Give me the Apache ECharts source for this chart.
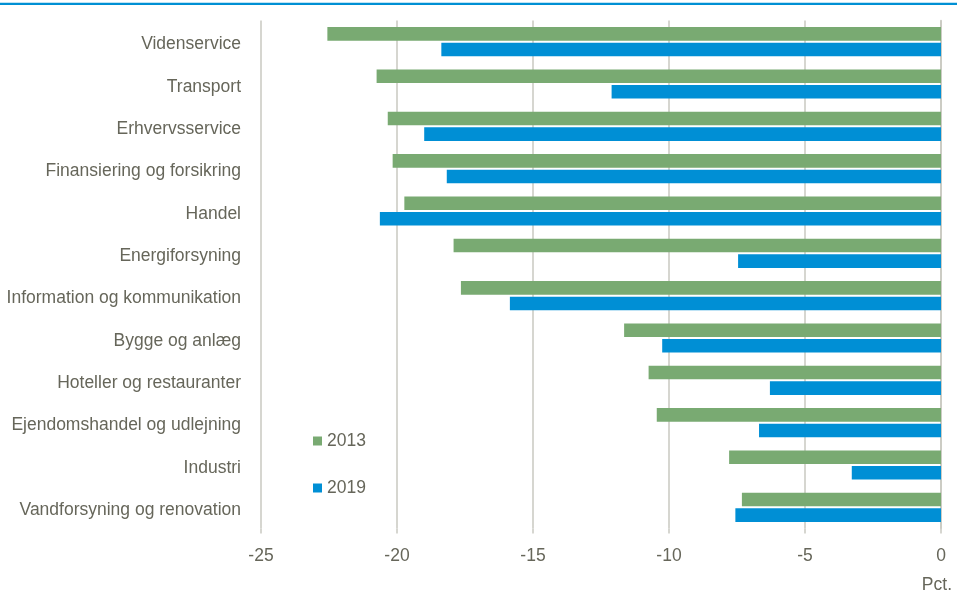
<!DOCTYPE html>
<html>
<head>
<meta charset="utf-8">
<script src="https://cdn.jsdelivr.net/npm/echarts@6/dist/echarts.min.js"></script>
<style>
  html, body { margin: 0; padding: 0; background: #ffffff; }
  #chart { width: 957px; height: 594px; }
</style>
</head>
<body>
<div id="chart"></div>
<script>
// Industries, top to bottom
const categories = [
  'Videnservice',
  'Transport',
  'Erhvervsservice',
  'Finansiering og forsikring',
  'Handel',
  'Energiforsyning',
  'Information og kommunikation',
  'Bygge og anlæg',
  'Hoteller og restauranter',
  'Ejendomshandel og udlejning',
  'Industri',
  'Vandforsyning og renovation'
];

// Change in pct., per industry
const values2013 = [-22.56, -20.75, -20.34, -20.16, -19.73, -17.92, -17.65, -11.65, -10.75, -10.45, -7.79, -7.32];
const values2019 = [-18.37, -12.11, -19.0, -18.17, -20.63, -7.46, -15.85, -10.25, -6.29, -6.69, -3.28, -7.56];

const seriesNames = ['2013', '2019'];
const xTicks = { min: -25, max: 0, interval: 5 };
const unitLabel = 'Pct.';

const FONT = '"Liberation Sans", Arial, sans-serif';
const TEXT = '#66665a';
const GRID = '#c9c9c1';
const GREEN = '#79aa72';
const BLUE = '#008fd5';

const chart = echarts.init(document.getElementById('chart'), null, { renderer: 'canvas' });

chart.setOption({
  animation: false,
  backgroundColor: '#ffffff',
  textStyle: { fontFamily: FONT },
  grid: { left: 261, right: 16, top: 20.5, bottom: 65.5, containLabel: false },
  legend: {
    orient: 'vertical',
    left: 308,
    top: 427,
    itemWidth: 9,
    itemHeight: 9,
    itemGap: 29,
    icon: 'rect',
    itemStyle: { borderWidth: 0 },
    textStyle: { color: TEXT, fontSize: 17.5, fontFamily: FONT },
    data: seriesNames
  },
  xAxis: {
    type: 'value',
    min: xTicks.min,
    max: xTicks.max,
    interval: xTicks.interval,
    axisLine: { show: false },
    axisTick: { show: true, length: 5, lineStyle: { color: GRID, width: 1.5 } },
    splitLine: { show: true, lineStyle: { color: GRID, width: 1.5 } },
    axisLabel: { color: TEXT, fontSize: 17.5, fontFamily: FONT, margin: 19 }
  },
  yAxis: {
    type: 'category',
    inverse: true,
    data: categories,
    axisLine: { show: true, lineStyle: { color: GRID, width: 1.5 } },
    axisTick: { show: false },
    axisLabel: {
      margin: 20,
      formatter: (v) => '{c|' + v + '}',
      rich: {
        c: { color: TEXT, fontSize: 17.5, fontFamily: FONT, padding: [6, 0, 0, 0] }
      }
    }
  },
  series: [
    {
      name: seriesNames[0],
      type: 'bar',
      data: values2013,
      itemStyle: { color: GREEN },
      barGap: '15%',
      barCategoryGap: '31%'
    },
    {
      name: seriesNames[1],
      type: 'bar',
      data: values2019,
      itemStyle: { color: BLUE },
      barGap: '15%',
      barCategoryGap: '31%'
    }
  ],
  graphic: [
    {
      type: 'rect',
      left: 0,
      top: 2.7,
      shape: { width: 957, height: 2.2 },
      style: { fill: '#0090d4' },
      silent: true
    },
    {
      type: 'text',
      right: 5,
      top: 576,
      style: { text: unitLabel, fill: TEXT, font: '17.5px ' + FONT }
    }
  ]
});
</script>
</body>
</html>
